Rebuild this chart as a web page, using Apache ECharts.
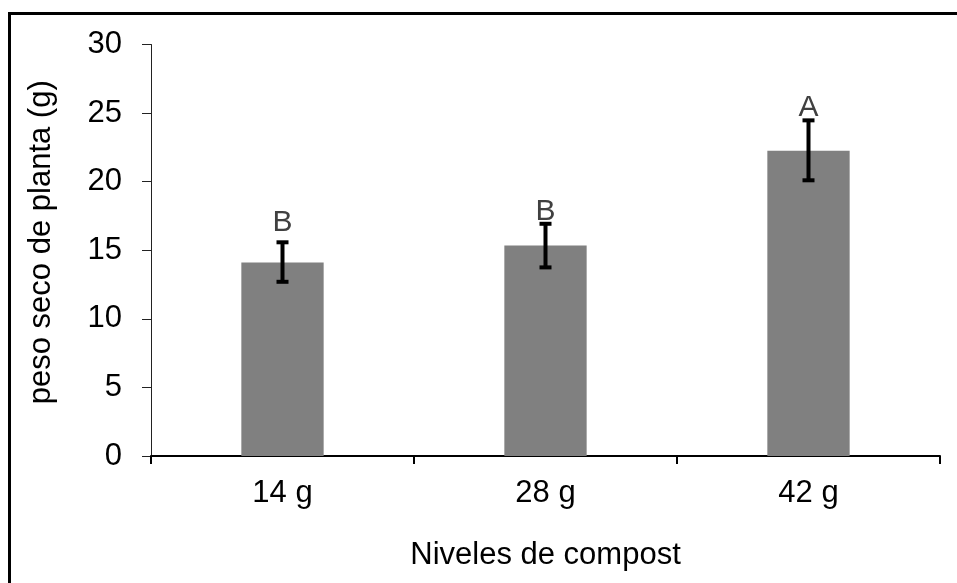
<!DOCTYPE html>
<html>
<head>
<meta charset="utf-8">
<script src="https://cdn.jsdelivr.net/npm/echarts@6/dist/echarts.min.js"></script>
<style>html,body{margin:0;padding:0;background:#fff;}#c{width:957px;height:583px;}</style>
</head>
<body>
<div id="c"></div>
<script>
var categories = ['14 g', '28 g', '42 g'];
var means = [14.1, 15.35, 22.25];
var errLow = [12.7, 13.75, 20.1];
var errHigh = [15.58, 16.93, 24.47];
var letters = ['B', 'B', 'A'];
var letterAt = [16.35, 17.15, 24.75];
var yTicks = [0, 5, 10, 15, 20, 25, 30];

var FONT = 'Liberation Sans, Arial, sans-serif';
var FS = 31;
var chart = echarts.init(document.getElementById('c'), null, {renderer: 'canvas'});

var errData = categories.map(function (c, i) { return [i, errLow[i], errHigh[i]]; });
var letterData = categories.map(function (c, i) { return [i, letterAt[i]]; });

chart.setOption({
  animation: false,
  backgroundColor: '#fff',
  graphic: [{
    type: 'rect',
    shape: {x: 9.5, y: 13.5, width: 1000, height: 700},
    style: {fill: null, stroke: '#000', lineWidth: 3},
    silent: true
  }],
  grid: {left: 151, right: 17, top: 44.5, bottom: 127, containLabel: false},
  xAxis: {
    type: 'category',
    data: categories,
    name: 'Niveles de compost',
    nameLocation: 'middle',
    nameGap: 84,
    nameTextStyle: {fontFamily: FONT, fontSize: FS, color: '#000'},
    axisLine: {lineStyle: {color: '#000', width: 2}},
    axisTick: {show: true, alignWithLabel: false, length: 8, lineStyle: {color: '#000', width: 2}},
    axisLabel: {fontFamily: FONT, fontSize: FS, color: '#000', margin: 22},
    splitLine: {show: false}
  },
  yAxis: {
    type: 'value',
    min: 0, max: 30, interval: 5,
    name: 'peso seco de planta (g)',
    nameLocation: 'middle',
    nameGap: 94,
    nameTextStyle: {fontFamily: FONT, fontSize: FS, color: '#000', padding: [0, 0, 0, 16]},
    axisLine: {show: true, lineStyle: {color: '#222', width: 1}},
    axisTick: {show: true, length: 9, lineStyle: {color: '#222', width: 1}},
    axisLabel: {fontFamily: FONT, fontSize: FS, color: '#000', margin: 29,
      formatter: function (v) { return yTicks.indexOf(v) >= 0 ? String(v) : ''; }},
    splitLine: {show: false}
  },
  series: [{
    type: 'bar',
    data: means,
    barWidth: '31.3%',
    itemStyle: {color: '#808080'},
    z: 2
  }, {
    type: 'custom',
    data: errData,
    z: 3,
    renderItem: function (params, api) {
      var x = api.value(0);
      var lo = api.coord([x, api.value(1)]);
      var hi = api.coord([x, api.value(2)]);
      var hw = 6;
      var st = {stroke: '#000', lineWidth: 4};
      return {type: 'group', children: [
        {type: 'line', shape: {x1: lo[0], y1: lo[1], x2: hi[0], y2: hi[1]}, style: st},
        {type: 'line', shape: {x1: lo[0] - hw, y1: lo[1], x2: lo[0] + hw, y2: lo[1]}, style: st},
        {type: 'line', shape: {x1: hi[0] - hw, y1: hi[1], x2: hi[0] + hw, y2: hi[1]}, style: st}
      ]};
    }
  }, {
    type: 'custom',
    data: letterData,
    z: 4,
    renderItem: function (params, api) {
      var p = api.coord([api.value(0), api.value(1)]);
      return {type: 'text', x: p[0], y: p[1] + 6, style: {
        text: letters[params.dataIndex], fontFamily: FONT, fontSize: 30,
        fill: '#404040', align: 'center', verticalAlign: 'bottom'
      }};
    }
  }]
});
</script>
</body>
</html>
